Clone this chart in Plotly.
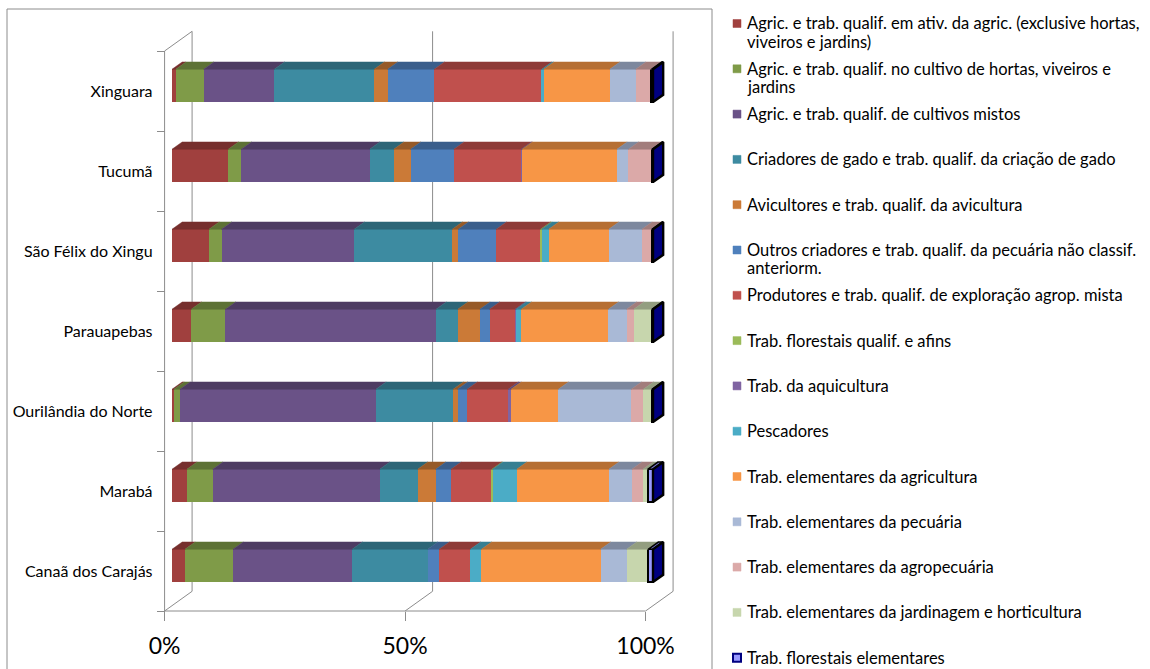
import plotly.graph_objects as go

# ---------------------------------------------------------------------------
# Data: share of workers per occupation group (percent of each municipality)
# ---------------------------------------------------------------------------
categories = [
    "Canaã dos Carajás",
    "Marabá",
    "Ourilândia do Norte",
    "Parauapebas",
    "São Félix do Xingu",
    "Tucumã",
    "Xinguara",
]

agric_excl_hortas = [2.7, 3.1, 0.4, 4.0, 7.7, 11.7, 0.8]
agric_hortas = [10.0, 5.4, 1.25, 7.1, 2.6, 2.7, 5.8]
cultivos_mistos = [24.8, 34.8, 40.6, 43.75, 27.6, 26.7, 14.7]
criadores_gado = [15.7, 7.9, 16.0, 4.5, 20.4, 5.0, 20.8]
avicultores = [0.0, 3.75, 0.9, 4.6, 1.25, 3.5, 2.8]
outros_criadores = [2.4, 3.2, 2.0, 2.0, 7.9, 9.0, 9.7]
produtores_mista = [6.5, 8.5, 8.5, 5.3, 9.2, 14.0, 22.4]
florestais_qualif = [0.0, 0.2, 0.0, 0.0, 0.3, 0.0, 0.0]
aquicultura = [0.0, 0.0, 0.6, 0.2, 0.0, 0.2, 0.0]
pescadores = [2.3, 5.0, 0.0, 1.1, 1.4, 0.0, 0.4]
elem_agricultura = [24.8, 19.2, 9.8, 18.1, 12.5, 19.7, 13.75]
elem_pecuaria = [5.4, 4.8, 15.1, 3.75, 6.9, 2.4, 5.4]
elem_agropecuaria = [0.0, 2.3, 2.5, 1.5, 2.1, 4.9, 3.3]
elem_jardinagem = [4.5, 1.0, 1.8, 3.8, 0.0, 0.0, 0.0]
florestais_elem = [1.0, 1.1, 0.2, 0.2, 0.2, 0.2, 0.3]

series_names = [
    "Agric. e trab. qualif. em ativ. da agric. (exclusive hortas, viveiros e jardins)",
    "Agric. e trab. qualif. no cultivo de hortas, viveiros e jardins",
    "Agric. e trab. qualif. de cultivos mistos",
    "Criadores de gado e trab. qualif. da criação de gado",
    "Avicultores e trab. qualif. da avicultura",
    "Outros criadores e trab. qualif. da pecuária não classif. anteriorm.",
    "Produtores e trab. qualif. de exploração agrop. mista",
    "Trab. florestais qualif. e afins",
    "Trab. da aquicultura",
    "Pescadores",
    "Trab. elementares da agricultura",
    "Trab. elementares da pecuária",
    "Trab. elementares da agropecuária",
    "Trab. elementares da jardinagem e horticultura",
    "Trab. florestais elementares",
]

# Legend entries, already wrapped into lines
legend_lines = [
    ["Agric. e trab. qualif. em ativ. da agric. (exclusive hortas,", "viveiros e jardins)"],
    ["Agric. e trab. qualif. no cultivo de hortas, viveiros e", "jardins"],
    ["Agric. e trab. qualif. de cultivos mistos"],
    ["Criadores de gado e trab. qualif. da criação de gado"],
    ["Avicultores e trab. qualif. da avicultura"],
    ["Outros criadores e trab. qualif. da pecuária não classif.", "anteriorm."],
    ["Produtores e trab. qualif. de exploração agrop. mista"],
    ["Trab. florestais qualif. e afins"],
    ["Trab. da aquicultura"],
    ["Pescadores"],
    ["Trab. elementares da agricultura"],
    ["Trab. elementares da pecuária"],
    ["Trab. elementares da agropecuária"],
    ["Trab. elementares da jardinagem e horticultura"],
    ["Trab. florestais elementares"],
]

x_tick_values = [0, 50, 100]
x_tick_labels = ["0%", "50%", "100%"]

series_values = [
    agric_excl_hortas, agric_hortas, cultivos_mistos, criadores_gado,
    avicultores, outros_criadores, produtores_mista, florestais_qualif,
    aquicultura, pescadores, elem_agricultura, elem_pecuaria,
    elem_agropecuaria, elem_jardinagem, florestais_elem,
]

# ---------------------------------------------------------------------------
# Styling
# ---------------------------------------------------------------------------
colors = [
    "#A0403E", "#7F9B48", "#6A5287", "#3D8BA1", "#CB7A37",
    "#4F80BC", "#C0504D", "#9BBB59", "#8064A2", "#4BACC6",
    "#F79646", "#A9B9D6", "#DBA9A8", "#C7D6AD", "#9999FF",
]
SIDE_COLOR = "#000080"
EDGE_COLOR = "#000000"
GRID_COLOR = "#8C8C8C"
FONT = "Lato"


def darker(hex_color, f=0.74):
    r, g, b = (int(hex_color[i:i + 2], 16) for i in (1, 3, 5))
    return "#%02X%02X%02X" % (int(r * f), int(g * f), int(b * f))


# ---------------------------------------------------------------------------
# Oblique projection used for the pseudo 3-D look
# ---------------------------------------------------------------------------
FIG_W, FIG_H = 1150, 669
PX_PER_PCT = 4.81          # horizontal pixels per percentage point
PX_PER_CAT = 80.0          # vertical pixels per category band
BAR_X0_PX = 172.0          # left end of the bar front faces
CAT0_Y_PX = 571.0          # centre of the first band on the front edge
DEPTH_X_PX, DEPTH_Y_PX = 27.5, 19.7   # full depth of the floor
D_FRONT, D_BACK = 0.27, 0.64          # depth span occupied by the bars
BAR_WIDTH = 0.41

x_range = [-BAR_X0_PX / PX_PER_PCT, (FIG_W - BAR_X0_PX) / PX_PER_PCT]
floor_x0_px = BAR_X0_PX - D_FRONT * DEPTH_X_PX
x2_range = [-floor_x0_px / PX_PER_PCT, (FIG_W - floor_x0_px) / PX_PER_PCT]
y_range = [(CAT0_Y_PX - FIG_H) / PX_PER_CAT, CAT0_Y_PX / PX_PER_CAT]


def proj(v, k, d):
    """Map (percent, category position, depth) to the bar-front axes."""
    return (v + (d - D_FRONT) * DEPTH_X_PX / PX_PER_PCT,
            k + d * DEPTH_Y_PX / PX_PER_CAT)


bar_lift = D_FRONT * DEPTH_Y_PX / PX_PER_CAT
n_cat = len(categories)

fig = go.Figure()

# Front faces of the stacked bars
for i, (name, vals, col) in enumerate(zip(series_names, series_values, colors)):
    last = i == len(series_names) - 1
    fig.add_trace(go.Bar(
        y=categories, x=vals, name=name, orientation="h",
        width=BAR_WIDTH, offset=bar_lift - BAR_WIDTH / 2,
        marker=dict(color=col,
                    line=dict(color=EDGE_COLOR if last else col,
                              width=2.2 if last else 0)),
        showlegend=False,
        hovertemplate="%{y}<br>" + name + ": %{x:.1f}%<extra></extra>",
    ))

# Normalised cumulative positions (bars are drawn with barnorm="percent")
totals = [sum(s[r] for s in series_values) for r in range(n_cat)]
cum = [[0.0] * n_cat]
for s in series_values:
    cum.append([cum[-1][r] + s[r] / totals[r] * 100 for r in range(n_cat)])

# Top faces of every segment
for i, col in enumerate(colors):
    xs, ys = [], []
    for r in range(n_cat):
        a, b = cum[i][r], cum[i + 1][r]
        if b - a <= 0:
            continue
        yt = r + BAR_WIDTH / 2
        pts = [proj(a, yt, D_FRONT), proj(b, yt, D_FRONT),
               proj(b, yt, D_BACK), proj(a, yt, D_BACK), proj(a, yt, D_FRONT)]
        xs += [p[0] for p in pts] + [None]
        ys += [p[1] for p in pts] + [None]
    last = i == len(colors) - 1
    fig.add_trace(go.Scatter(
        x=xs, y=ys, xaxis="x", yaxis="y2", mode="lines", fill="toself",
        fillcolor=darker(col, 0.8 if last else 0.74),
        line=dict(color=EDGE_COLOR if last else darker(col, 0.74),
                  width=1.6 if last else 0.5),
        showlegend=False, hoverinfo="skip",
    ))

# Right-hand end caps
xs, ys = [], []
for r in range(n_cat):
    yb, yt = r - BAR_WIDTH / 2, r + BAR_WIDTH / 2
    pts = [proj(100, yb, D_FRONT), proj(100, yt, D_FRONT),
           proj(100, yt, D_BACK), proj(100, yb, D_BACK), proj(100, yb, D_FRONT)]
    xs += [p[0] for p in pts] + [None]
    ys += [p[1] for p in pts] + [None]
fig.add_trace(go.Scatter(
    x=xs, y=ys, xaxis="x", yaxis="y2", mode="lines", fill="toself",
    fillcolor=SIDE_COLOR, line=dict(color=EDGE_COLOR, width=2.4),
    showlegend=False, hoverinfo="skip",
))

# Carrier trace for the percentage axis along the front floor edge
fig.add_trace(go.Scatter(x=x_tick_values, y=[categories[0]] * 3, xaxis="x2",
                         yaxis="y", mode="none", showlegend=False,
                         hoverinfo="skip"))

# Walls and floor
shapes = []


def wall_line(p, q):
    shapes.append(dict(type="line", xref="x", yref="y", layer="below",
                       x0=p[0], y0=p[1], x1=q[0], y1=q[1],
                       line=dict(color=GRID_COLOR, width=1)))


k_lo, k_hi = -0.5, n_cat - 0.5
wall_line(proj(0, k_lo, 0), proj(0, k_hi, 0))
wall_line(proj(0, k_hi, 0), proj(0, k_hi, 1))
wall_line(proj(0, k_lo, 0), proj(100, k_lo, 0))
for v in x_tick_values:
    wall_line(proj(v, k_lo, 0), proj(v, k_lo, 1))
    wall_line(proj(v, k_lo, 1), proj(v, k_hi, 1))

# Chart frame
shapes.append(dict(type="rect", xref="paper", yref="paper",
                   x0=7 / FIG_W, x1=712 / FIG_W, y0=-0.05, y1=1 - 9 / FIG_H,
                   line=dict(color=GRID_COLOR, width=1), layer="below"))

# Legend (markers + labels)
annotations = []
LEG_Y0, LEG_STEP, LEG_LINE = 23.5, 45.3, 18.0
for i, (lines, col) in enumerate(zip(legend_lines, colors)):
    yc = LEG_Y0 + i * LEG_STEP
    last = i == len(colors) - 1
    shapes.append(dict(type="rect", xref="paper", yref="paper",
                       x0=733 / FIG_W, x1=741 / FIG_W,
                       y0=1 - (yc + 4) / FIG_H, y1=1 - (yc - 4) / FIG_H,
                       fillcolor=col,
                       line=dict(color=SIDE_COLOR if last else col,
                                 width=2 if last else 0.5)))
    for j, line in enumerate(lines):
        annotations.append(dict(xref="paper", yref="paper", x=745 / FIG_W,
                                y=1 - (yc + j * LEG_LINE) / FIG_H,
                                xanchor="left", yanchor="middle",
                                align="left", showarrow=False, text=line,
                                font=dict(family=FONT, size=16.5,
                                          color="#000000")))

fig.update_layout(
    width=FIG_W, height=FIG_H,
    margin=dict(l=0, r=0, t=0, b=0),
    paper_bgcolor="white", plot_bgcolor="white",
    barmode="stack", barnorm="percent",
    showlegend=False,
    font=dict(family=FONT, color="#000000"),
    xaxis=dict(range=x_range, visible=False, fixedrange=True),
    xaxis2=dict(range=x2_range, overlaying="x", anchor="free",
                position=(FIG_H - 611) / FIG_H, side="bottom",
                tickvals=x_tick_values, ticktext=x_tick_labels,
                ticks="outside", ticklen=9, tickcolor=GRID_COLOR,
                ticklabelstandoff=5,
                tickfont=dict(family=FONT, size=23, color="#000000"),
                showgrid=False, zeroline=False, showline=False,
                fixedrange=True),
    yaxis=dict(type="category", categoryorder="array",
               categoryarray=categories, range=y_range,
               anchor="free", position=floor_x0_px / FIG_W,
               ticks="outside", tickson="boundaries", ticklen=8,
               ticklabelstandoff=12,
               tickcolor=GRID_COLOR, showgrid=False, showline=False,
               tickfont=dict(family=FONT, size=16, color="#000000"),
               fixedrange=True),
    yaxis2=dict(range=y_range, overlaying="y", anchor="x", visible=False,
                fixedrange=True),
    shapes=shapes,
    annotations=annotations,
)

fig.write_html("out.html")
